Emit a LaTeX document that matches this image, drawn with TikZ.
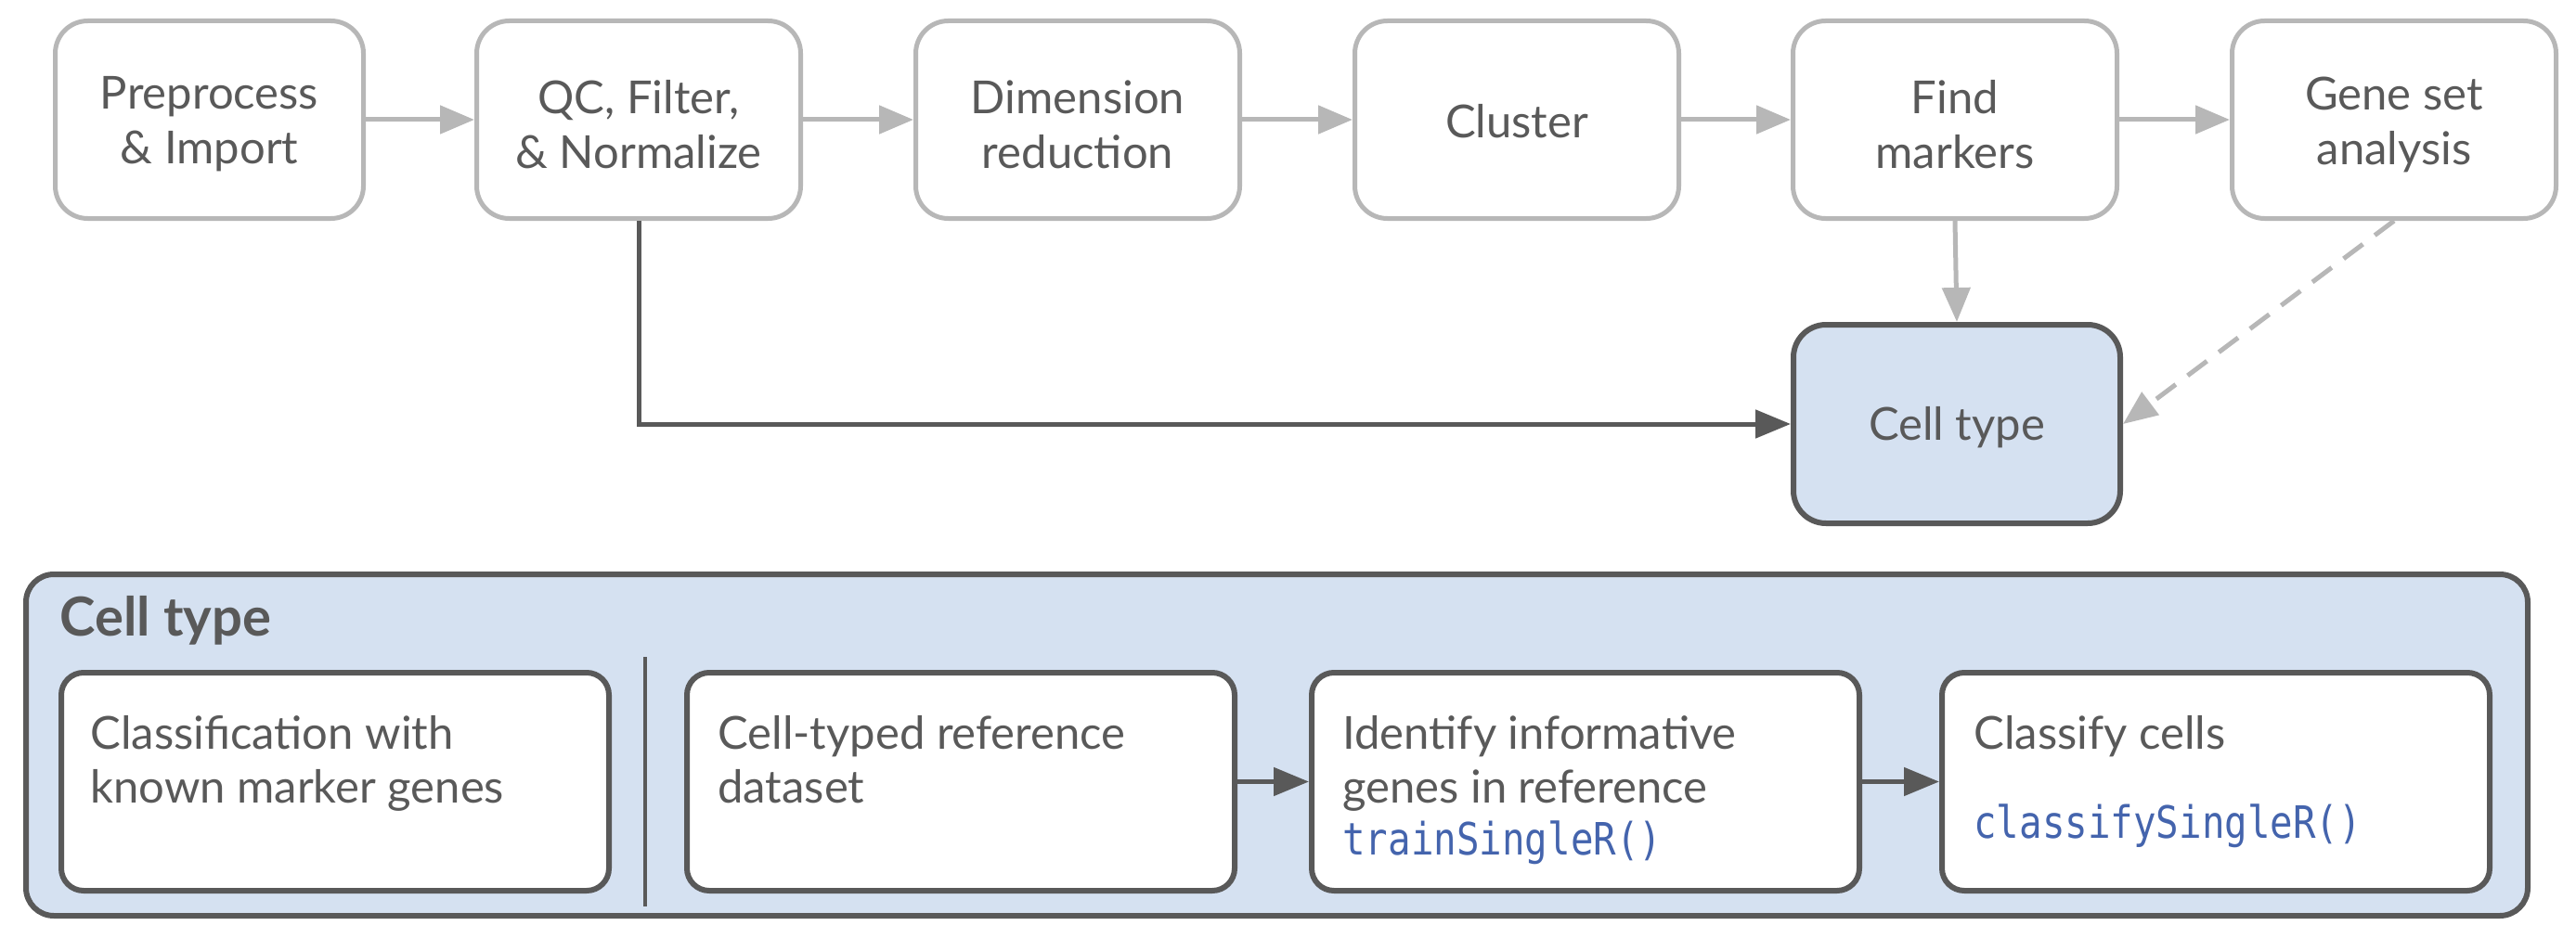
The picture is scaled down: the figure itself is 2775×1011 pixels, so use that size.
\documentclass[tikz,border=0pt]{standalone}
\usepackage{fontspec}
\setmainfont{Lato}
\setmonofont[FakeStretch=0.85]{DejaVu Sans Mono}
\usetikzlibrary{arrows.meta}
\definecolor{lgray}{HTML}{B7B7B7}
\definecolor{dgray}{HTML}{595959}
\definecolor{lblue}{HTML}{D5E1F1}
\definecolor{codeblue}{HTML}{4464AD}
\newcommand\mainfnt{\fontsize{24.5pt}{29.5pt}\selectfont}
\newcommand\titlefnt{\fontsize{29pt}{34pt}\selectfont\bfseries}
\newcommand\codefnt{\fontsize{24pt}{29pt}\selectfont\ttfamily}
\begin{document}
\begin{tikzpicture}[x=0.5pt,y=-0.5pt,
  topbox/.style={draw=lgray, line width=2.5pt, rounded corners=17.5pt, fill=white,
    minimum width=174.5pt, minimum height=106.5pt, inner sep=0pt},
  firstbox/.style={topbox, minimum width=166pt},
  toptext/.style={align=center, text=dgray, font=\mainfnt, inner sep=0pt},
  ctbox/.style={draw=dgray, line width=3pt, rounded corners=17.5pt, fill=lblue,
    minimum width=176pt, minimum height=107pt, inner sep=0pt},
  bigbox/.style={draw=dgray, line width=3pt, rounded corners=15pt, fill=lblue,
    minimum width=1347.5pt, minimum height=184pt, inner sep=0pt},
  innerbox/.style={draw=dgray, line width=3pt, rounded corners=12pt, fill=white,
    minimum width=295pt, minimum height=117.5pt, inner sep=0pt},
  boxtext/.style={anchor=base west, text=dgray, font=\mainfnt, inner sep=0pt},
  codetext/.style={anchor=base west, text=codeblue, font=\codefnt, inner sep=0pt},
  garrow/.style={draw=lgray, line width=2.5pt, -{Triangle[length=18.5pt,width=15pt]}},
  darrow/.style={draw=dgray, line width=2.5pt, -{Triangle[length=19pt,width=15pt]}},
]
\useasboundingbox (0,0) rectangle (2775,1011);

% top row
\node[firstbox] (pre) at (225.5,129) {};
\node[topbox] (qc)  at (688,129)   {};
\node[topbox] (dim) at (1161,129)  {};
\node[topbox] (clu) at (1634,129)  {};
\node[topbox] (fm)  at (2106,129)  {};
\node[topbox] (gs)  at (2579,129)  {};
\node[toptext] (pret) at ([yshift=-2.5pt]pre.center) {Preprocess\\\& Import};
\node[toptext] (qct)  at ([yshift=-2.5pt]qc.center)  {QC, Filter,\\\& Normalize};
\node[toptext] (dimt) at ([yshift=-2.5pt]dim.center) {Dimension\\reduction};
\node[toptext] (clut) at ([yshift=-1pt]clu.center) {Cluster};
\node[toptext] (fmt)  at ([yshift=-2.5pt]fm.center)  {Find\\markers};
\node[toptext] (gst)  at ([yshift=-2.5pt]gs.center)  {Gene set\\analysis};

\node[ctbox] (ct) at (2108,457) {};
\node[toptext] (ctt) at ([yshift=-2pt]ct.center) {Cell type};

\draw[garrow] (pre) -- (qc);
\draw[garrow] (qc) -- (dim);
\draw[garrow] (dim) -- (clu);
\draw[garrow] (clu) -- (fm);
\draw[garrow] (fm) -- (gs);
\draw[garrow] (fm.south) -- (ct.north);
\draw[garrow, dash pattern=on 13pt off 8pt] (gs.south) -- (ct.east);
\draw[darrow] (qc.south) |- (ct.west);

% bottom panel
\node[bigbox] (big) at (1375.5,803) {};
\node[anchor=base west, text=dgray, font=\titlefnt, inner sep=0pt] (title) at (64,685) {Cell type};

\node[innerbox] (A) at (361,842.5) {};
\node[innerbox] (B) at (1035,842.5) {};
\node[innerbox] (C) at (1708,842.5) {};
\node[innerbox] (D) at (2387,842.5) {};

\coordinate (divtop) at (695,708);
\coordinate (divbot) at (695,977);
\draw[dgray, line width=2pt] (divtop) -- (divbot);

\node[boxtext] (a1) at (97,807) {Classification with};
\node[boxtext] (a2) at (97,865) {known marker genes};
\node[boxtext] (b1) at (773,807) {Cell-typed reference};
\node[boxtext] (b2) at (773,865) {dataset};
\node[boxtext] (c1) at (1446,807) {Identify informative};
\node[boxtext] (c2) at (1446,865) {genes in reference};
\node[codetext] (c3) at (1446,921) {trainSingleR()};
\node[boxtext] (d1) at (2126,807) {Classify cells};
\node[codetext] (d2) at (2126,903) {classifySingleR()};

\draw[darrow] (B) -- (C);
\draw[darrow] (C) -- (D);
\end{tikzpicture}
\end{document}
